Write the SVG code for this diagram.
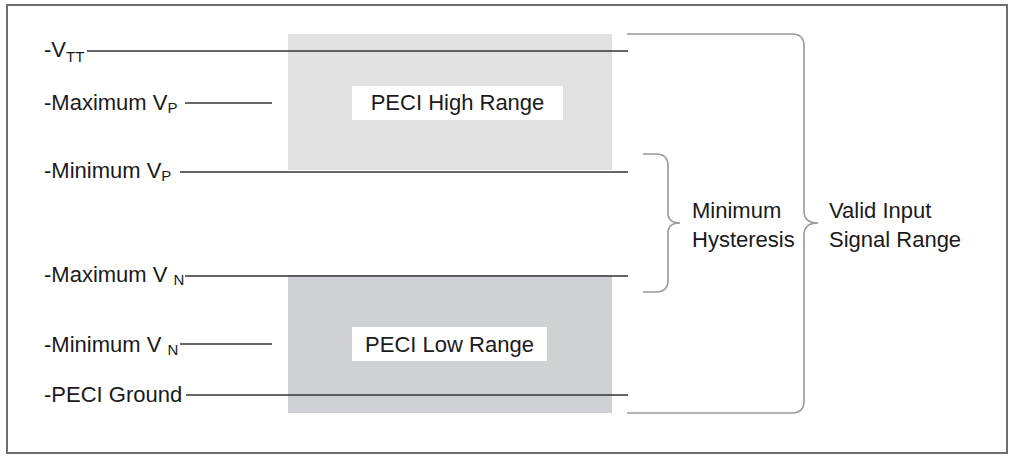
<svg xmlns="http://www.w3.org/2000/svg" width="1010" height="462" viewBox="0 0 1010 462">
<style>
.lbl{font-family:"Liberation Sans",Arial,sans-serif;font-size:22px;fill:#1a1a1a}
.sub{font-size:15px}
.box{font-family:"Liberation Sans",Arial,sans-serif;font-size:22px;fill:#1a1a1a;text-anchor:middle}
.ln{stroke:#333;stroke-width:1.5;fill:none}
.br{stroke:#9a9a9a;stroke-width:1.6;fill:none}
</style>
<rect x="0" y="0" width="1010" height="462" fill="#fff"/>
<rect x="7" y="5" width="1000" height="448" fill="#fff" stroke="#6e6e6e" stroke-width="2"/>
<g id="high-range">
<rect x="288" y="34" width="324" height="136" fill="#e1e1e1"/>
<rect x="352" y="86" width="211" height="34" fill="#fff"/>
<text class="box" x="457.5" y="110">PECI High Range</text>
</g>
<g id="low-range">
<rect x="288" y="275" width="324" height="138" fill="#cfd1d5"/>
<rect x="352" y="327" width="195" height="34" fill="#fff"/>
<text class="box" x="449.5" y="352">PECI Low Range</text>
</g>
<g id="labels">
<text class="lbl" x="44" y="57">-V<tspan class="sub" dy="5">TT</tspan></text>
<text class="lbl" x="44" y="110">-Maximum V<tspan class="sub" dy="3">P</tspan></text>
<text class="lbl" x="44" y="178">-Minimum V<tspan class="sub" dy="3">P</tspan></text>
<text class="lbl" x="44" y="282">-Maximum V <tspan class="sub" dy="3">N</tspan></text>
<text class="lbl" x="44" y="352">-Minimum V <tspan class="sub" dy="3">N</tspan></text>
<text class="lbl" x="44" y="402">-PECI Ground</text>
</g>
<g id="connectors">
<line class="ln" x1="87" y1="51" x2="628" y2="51"/>
<line class="ln" x1="185" y1="103" x2="272" y2="103"/>
<line class="ln" x1="180" y1="172" x2="628" y2="172"/>
<line class="ln" x1="185" y1="276" x2="628" y2="276"/>
<line class="ln" x1="180" y1="344" x2="272" y2="344"/>
<line class="ln" x1="186" y1="395" x2="628" y2="395"/>
</g>
<g id="hysteresis">
<path class="br" d="M643,154 H656 Q668,154 668,166 V213 Q668,223 680,223 Q668,223 668,233 V280 Q668,292 656,292 H643"/>
<text class="lbl" x="692" y="218">Minimum</text>
<text class="lbl" x="692" y="247">Hysteresis</text>
</g>
<g id="valid-range">
<path class="br" d="M627,34 H792 Q804,34 804,46 V211 Q804,223 818,223 Q804,223 804,235 V401 Q804,413 792,413 H627"/>
<text class="lbl" x="829" y="218">Valid Input</text>
<text class="lbl" x="829" y="247">Signal Range</text>
</g>
</svg>
